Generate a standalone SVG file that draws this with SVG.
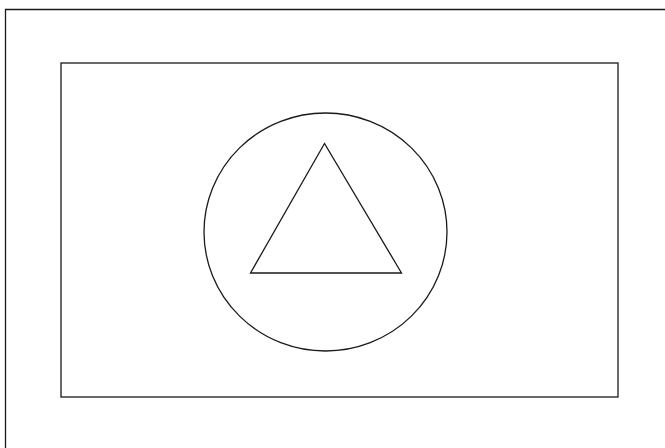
<svg xmlns="http://www.w3.org/2000/svg" width="665" height="448" viewBox="0 0 665 448">
<style>
.s{fill:none;stroke:#1a1a1a;stroke-width:1.3}
</style>
<rect width="665" height="448" fill="#fff"/>
<g id="outer"><path class="s" d="M5.5 460 V9.5 H680"/></g>
<g id="inner"><rect class="s" x="61" y="63" width="557" height="334"/></g>
<g id="circle"><ellipse class="s" cx="325.5" cy="232" rx="121.5" ry="119"/></g>
<g id="triangle"><polygon class="s" points="324.5,143.5 250.5,273 401.5,273"/></g>
<g id="connectors"></g>
</svg>
